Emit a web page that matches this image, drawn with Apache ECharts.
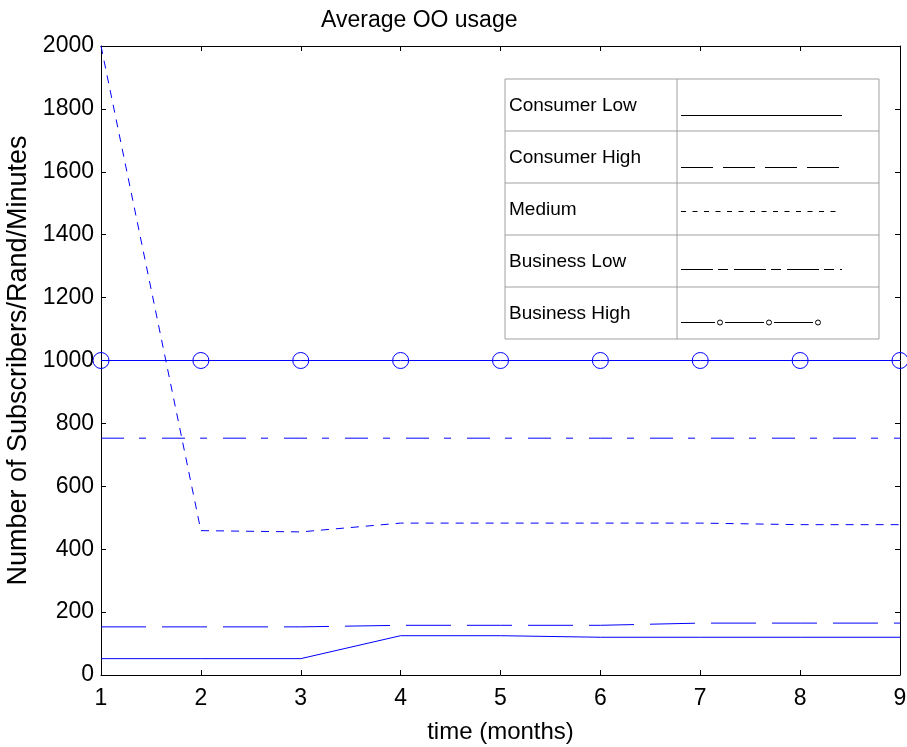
<!DOCTYPE html>
<html>
<head>
<meta charset="utf-8">
<script src="https://cdn.jsdelivr.net/npm/echarts@6/dist/echarts.min.js"></script>
<style>
  html, body { margin: 0; padding: 0; background: #fff; }
  #chart { width: 907px; height: 747px; }
</style>
</head>
<body>
<div id="chart"></div>
<script>
// Monthly averages per subscriber segment
const months = [1, 2, 3, 4, 5, 6, 7, 8, 9];
const consumerLow  = [52, 52, 52, 125, 125, 120, 120, 120, 120];
const consumerHigh = [153, 153, 153, 158, 158, 158, 165, 165, 165];
const medium       = [2000, 459, 455, 483, 483, 483, 483, 478, 478];
const businessLow  = [753, 753, 753, 753, 753, 753, 753, 753, 753];
const businessHigh = [1000, 1000, 1000, 1000, 1000, 1000, 1000, 1000, 1000];
const seriesNames  = ['Consumer Low', 'Consumer High', 'Medium', 'Business Low', 'Business High'];
const yTicks = [0, 200, 400, 600, 800, 1000, 1200, 1400, 1600, 1800, 2000];

const FONT = 'Liberation Sans, Arial, Helvetica, sans-serif';
const BLUE = '#0000ff';
const pairs = vals => months.map((m, i) => [m, vals[i]]);

const chart = echarts.init(document.getElementById('chart'), null, { renderer: 'canvas' });

const baseAxis = {
  axisLine: { show: true, onZero: false, lineStyle: { color: '#000', width: 1 } },
  axisTick: { show: true, inside: true, length: 5, lineStyle: { color: '#000' } },
  splitLine: { show: false }
};

// Legend table drawn as a framed grid with sample strokes
const tblLeft = 505, tblTop = 79, tblRight = 879, rowH = 52, colX = 677;
const sampleX1 = 681, sampleX2 = 842;
const graphics = [];
graphics.push({
  type: 'rect', shape: { x: tblLeft, y: tblTop, width: tblRight - tblLeft, height: rowH * 5 },
  style: { fill: '#fff', stroke: '#a0a0a0', lineWidth: 1 }, z: 100
});
graphics.push({
  type: 'line', shape: { x1: colX, y1: tblTop, x2: colX, y2: tblTop + rowH * 5 },
  style: { stroke: '#a0a0a0', lineWidth: 1 }, z: 101
});
for (let r = 1; r < 5; r++) {
  graphics.push({
    type: 'line', shape: { x1: tblLeft, y1: tblTop + rowH * r, x2: tblRight, y2: tblTop + rowH * r },
    style: { stroke: '#a0a0a0', lineWidth: 1 }, z: 101
  });
}
const sampleOffsets = [10, 10, 2, 8, 9];
const sampleDash = [null, [32, 10], [5, 6.5], [32, 5, 10, 6], null];
seriesNames.forEach((name, r) => {
  const cy = tblTop + rowH * r + rowH / 2;
  graphics.push({
    type: 'text', left: tblLeft + 4, top: cy - 9,
    style: { text: name, font: '19px ' + FONT, fill: '#000', textVerticalAlign: 'top' }, z: 102
  });
  const ly = Math.round(cy + sampleOffsets[r]) + 0.5;
  if (r < 4) {
    graphics.push({
      type: 'line', shape: { x1: sampleX1, y1: ly, x2: sampleX2, y2: ly },
      style: { stroke: '#000', lineWidth: 1, lineDash: sampleDash[r] }, z: 102
    });
  } else {
    const segs = [[681, 715], [725, 764], [774, 813]];
    const dots = [720, 769, 818];
    segs.forEach(s => graphics.push({
      type: 'line', shape: { x1: s[0], y1: ly, x2: s[1], y2: ly },
      style: { stroke: '#000', lineWidth: 1 }, z: 102
    }));
    dots.forEach(d => graphics.push({
      type: 'circle', shape: { cx: d, cy: ly, r: 2.5 },
      style: { fill: '#fff', stroke: '#000', lineWidth: 1 }, z: 102
    }));
  }
});

const lineSeries = (name, vals, dash, extra) => Object.assign({
  name, type: 'line', data: pairs(vals), xAxisIndex: 0, yAxisIndex: 0,
  symbol: 'none', animation: false, silent: true, clip: false,
  lineStyle: { color: BLUE, width: 1, type: dash || 'solid' }
}, extra || {});

chart.setOption({
  animation: false,
  backgroundColor: '#fff',
  title: {
    text: 'Average OO usage', left: 316, top: 4,
    textStyle: { fontFamily: FONT, fontSize: 23, fontWeight: 'normal', color: '#000' }
  },
  grid: {
    left: 101, right: 7, top: 46, bottom: 72,
    containLabel: false, outerBoundsMode: 'none'
  },
  xAxis: [
    Object.assign({}, baseAxis, {
      type: 'value', position: 'bottom', min: 1, max: 9, interval: 1,
      name: 'time (months)', nameLocation: 'middle', nameGap: 45,
      nameTextStyle: { fontFamily: FONT, fontSize: 24, color: '#000' },
      axisLabel: { fontFamily: FONT, fontSize: 23, color: '#000', margin: 12 }
    }),
    Object.assign({}, baseAxis, {
      type: 'value', position: 'top', min: 1, max: 9, interval: 1,
      axisLabel: { show: false }
    })
  ],
  yAxis: [
    Object.assign({}, baseAxis, {
      type: 'value', position: 'left', min: 0, max: 2000, interval: 200,
      name: 'Number of Subscribers/Rand/Minutes', nameLocation: 'middle', nameGap: 69,
      nameTextStyle: { fontFamily: FONT, fontSize: 27, color: '#000' },
      axisLabel: {
        fontFamily: FONT, fontSize: 23, color: '#000', margin: 7,
        formatter: v => (yTicks.indexOf(v) >= 0 ? String(v) : '')
      }
    }),
    Object.assign({}, baseAxis, {
      type: 'value', position: 'right', min: 0, max: 2000, interval: 200,
      axisLabel: { show: false }
    })
  ],
  series: [
    lineSeries(seriesNames[0], consumerLow, 'solid'),
    lineSeries(seriesNames[1], consumerHigh, [45, 16]),
    lineSeries(seriesNames[2], medium, [8, 7]),
    lineSeries(seriesNames[3], businessLow, [23, 15, 7, 16]),
    lineSeries(seriesNames[4], businessHigh, 'solid', {
      symbol: 'circle', symbolSize: 16, showSymbol: true,
      itemStyle: { color: 'rgba(255,255,255,0)', borderColor: BLUE, borderWidth: 1 }
    })
  ],
  graphic: graphics
});
</script>
</body>
</html>
